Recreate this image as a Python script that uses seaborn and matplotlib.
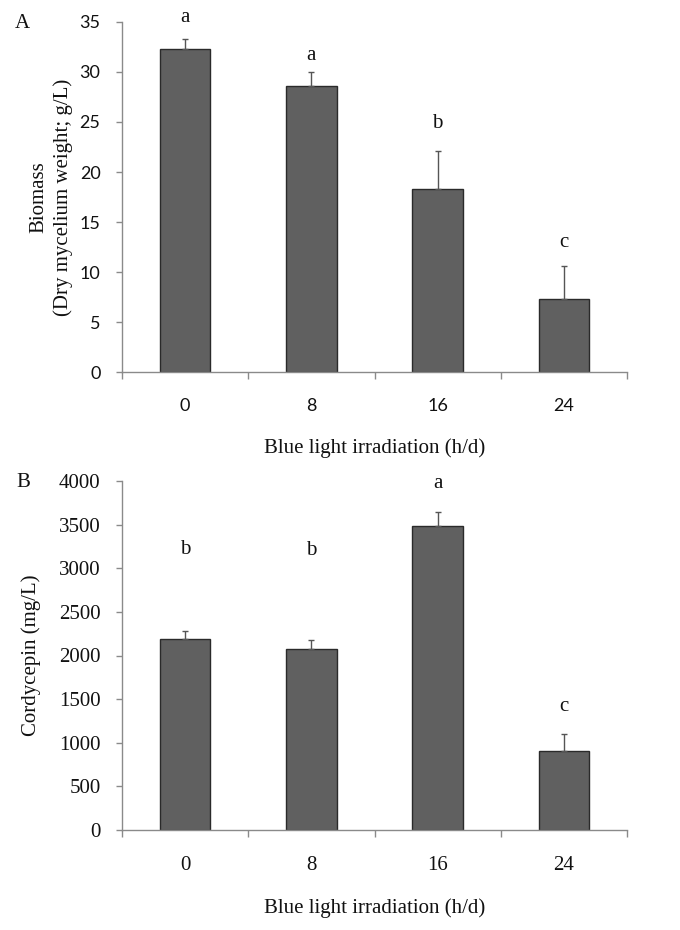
"""
Biomass and cordycepin yield under blue light irradiation (two-panel bar chart).
"""

import matplotlib

matplotlib.use("Agg")
import matplotlib.pyplot as plt  # noqa: E402
import pandas as pd  # noqa: E402
import seaborn as sns  # noqa: E402

# ── Data ──────────────────────────────────────────────────────────────────────
hours = ["0", "8", "16", "24"]

biomass = [32.3, 28.6, 18.3, 7.3]
biomass_err = [1.0, 1.4, 3.8, 3.3]
biomass_letters = ["a", "a", "b", "c"]

cordycepin = [2190, 2080, 3485, 900]
cordycepin_err = [90, 100, 160, 200]
cordycepin_letters = ["b", "b", "a", "c"]

# letter heights (in data units)
biomass_letter_y = [35.4, 31.7, 24.9, 13.0]
cordycepin_letter_y = [3210, 3200, 3975, 1410]

# ── Style ─────────────────────────────────────────────────────────────────────
sns.set_theme(style="white")
SERIF = ["Liberation Serif", "DejaVu Serif"]
SANS = ["Lato", "DejaVu Sans"]
plt.rcParams["font.family"] = SERIF

BAR_COLOR = "#606060"
AXIS_COLOR = "#8a8a8a"
TEXT_COLOR = "#111111"
FS = 15


def style_axis(ax, ymax, ystep, tick_family, tick_size, xlabel_y):
    ax.set_xlim(-0.5, len(hours) - 0.5)
    ax.set_ylim(0, ymax)
    ax.set_yticks(range(0, ymax + 1, ystep))
    for side in ("top", "right"):
        ax.spines[side].set_visible(False)
    for side in ("left", "bottom"):
        ax.spines[side].set_color(AXIS_COLOR)
        ax.spines[side].set_linewidth(1.0)
    ax.tick_params(axis="y", direction="out", length=4.5, width=1,
                   color=AXIS_COLOR, pad=11, left=True)
    ax.tick_params(axis="x", which="major", length=0, pad=19)
    ax.set_xticks([i - 0.5 for i in range(len(hours) + 1)], minor=True)
    ax.tick_params(axis="x", which="minor", direction="out", length=5,
                   width=1, color=AXIS_COLOR, bottom=True)
    for lab in ax.get_yticklabels() + ax.get_xticklabels():
        lab.set_family(tick_family)
        lab.set_fontsize(tick_size)
        lab.set_color(TEXT_COLOR)
    ax.set_xlabel("Blue light irradiation (h/d)", fontsize=FS, color=TEXT_COLOR)
    ax.xaxis.set_label_coords(0.5, xlabel_y)


def draw_bars(ax, values, errors, letters, letter_y):
    df = pd.DataFrame({"hours": hours, "value": values})
    sns.barplot(data=df, x="hours", y="value", color=BAR_COLOR, width=0.4,
                edgecolor="#2a2a2a", linewidth=1.0, errorbar=None,
                saturation=1, ax=ax)
    centers = [p.get_x() + p.get_width() / 2 for p in ax.patches]
    ax.errorbar(centers, values, yerr=[[0] * len(errors), errors], fmt="none",
                ecolor="#555555", elinewidth=1.0, capsize=2.5, capthick=1.0)
    for x, y, s in zip(centers, letter_y, letters):
        ax.text(x, y, s, ha="center", va="center", fontsize=FS,
                color=TEXT_COLOR, family=SERIF)


fig = plt.figure(figsize=(6.8, 9.3), dpi=100)
ax_a = fig.add_axes([122 / 680, 1 - 372 / 930, 505 / 680, 350 / 930])
ax_b = fig.add_axes([122 / 680, 1 - 830 / 930, 505 / 680, 349 / 930])

# ── Panel A ───────────────────────────────────────────────────────────────────
draw_bars(ax_a, biomass, biomass_err, biomass_letters, biomass_letter_y)
style_axis(ax_a, 35, 5, SANS, 13, -0.19)
ax_a.set_ylabel("Biomass\n(Dry mycelium weight; g/L)", fontsize=FS,
                color=TEXT_COLOR, linespacing=1.35)
ax_a.yaxis.set_label_coords(-0.097, 0.5)

# ── Panel B ───────────────────────────────────────────────────────────────────
draw_bars(ax_b, cordycepin, cordycepin_err, cordycepin_letters,
          cordycepin_letter_y)
style_axis(ax_b, 4000, 500, SERIF, 15, -0.195)
ax_b.set_ylabel("Cordycepin (mg/L)", fontsize=FS, color=TEXT_COLOR)
ax_b.yaxis.set_label_coords(-0.16, 0.5)

fig.text(15 / 680, 1 - 23 / 930, "A", fontsize=FS, va="center", color=TEXT_COLOR)
fig.text(16 / 680, 1 - 482 / 930, "B", fontsize=FS, va="center", color=TEXT_COLOR)

fig.savefig("out.png", dpi=100, facecolor="white")
plt.close(fig)
